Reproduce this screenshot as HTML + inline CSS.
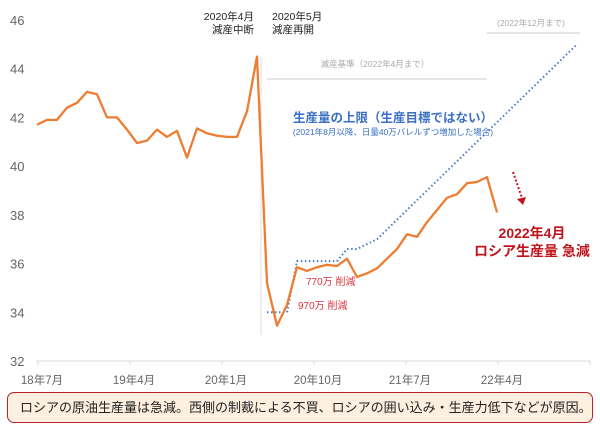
<!DOCTYPE html>
<html><head><meta charset="utf-8"><style>
body{margin:0;background:#fff;width:600px;height:430px;overflow:hidden;font-family:"Liberation Sans","Noto Sans CJK JP",sans-serif}
svg text{font-family:"Liberation Sans","Noto Sans CJK JP",sans-serif}
#note{position:absolute;left:7px;top:392px;width:586px;height:31px;box-sizing:border-box;border:1.5px solid #b8222a;border-radius:7px;background:#fdf0e0;font-size:13px;color:#222;line-height:29px;padding-left:12px;white-space:nowrap;overflow:hidden}
</style></head><body>
<svg id="chart" width="600" height="430" style="position:absolute;left:0;top:0"></svg>
<div id="note">ロシアの原油生産量は急減。西側の制裁による不買、ロシアの囲い込み・生産力低下などが原因。</div>
<script>
const yTicks=[32,34,36,38,40,42,44,46];
const xLabels=["18年7月","19年4月","20年1月","20年10月","21年7月","22年4月"];
const production=[41.7,41.9,41.9,42.4,42.6,43.05,42.95,42.0,42.0,41.5,40.95,41.05,41.5,41.2,41.45,40.35,41.55,41.35,41.25,41.2,41.2,42.25,44.5,35.2,33.45,34.3,35.85,35.7,35.85,35.95,35.9,36.2,35.45,35.6,35.8,36.2,36.6,37.2,37.1,37.7,38.2,38.7,38.85,39.3,39.35,39.55,38.1];
const capStart=23;
const cap=[34.0,34.0,34.0,36.1,36.1,36.1,36.1,36.1,36.6,36.6,36.8,37.0,37.4,37.8,38.2,38.6,39.0,39.4,39.8,40.2,40.6,41.0,41.4,41.8,42.2,42.6,43.0,43.4,43.8,44.2,44.6,45.0];
const NS="http://www.w3.org/2000/svg";
const svg=document.getElementById('chart');
const x0=37,dx=10.0,yTop=20,yBot=361;
function X(i){return x0+i*dx;}
function T(i){return 38+i*92;}
function Y(v){return yBot-(v-32)*(yBot-yTop)/14;}
function mk(t,a,p){const e=document.createElementNS(NS,t);for(const k in a)e.setAttribute(k,a[k]);(p||svg).appendChild(e);return e;}
const ax=mk('line',{x1:36,x2:590,y1:yBot,y2:yBot,stroke:'#d9d9d9','stroke-width':1});


yTicks.forEach(v=>{const t=mk('text',{x:10,y:Y(v)+5,'font-size':13,fill:'#666'});t.textContent=v;

});
xLabels.forEach((s,i)=>{const xx=T(i);mk('line',{x1:xx,x2:xx,y1:yBot,y2:yBot+4,stroke:'#d9d9d9'});
const t=mk('text',{x:xx+4,y:384,'font-size':11.5,fill:'#666','text-anchor':'middle'});t.textContent=s;

});
mk('line',{x1:T(6),x2:T(6),y1:yBot,y2:yBot+4,stroke:'#d9d9d9'});
mk('line',{x1:261,x2:261,y1:57,y2:335,stroke:'#ddd'});
mk('line',{x1:267,x2:487,y1:79,y2:79,stroke:'#ccc'});
mk('line',{x1:487,x2:580,y1:33,y2:33,stroke:'#ccc'});
function txt(s,x,y,sz,fill,anchor,w,name){const t=mk('text',{x:x,y:y,'font-size':sz,fill:fill,'text-anchor':anchor||'start','font-weight':w||'normal'});t.textContent=s;

return t;}
txt('減産基準（2022年4月まで）',375,67,8.5,'#aaa','middle',0,'baseline-label');
txt('(2022年12月まで)',531,26,8.5,'#aaa','middle',0,'extension-label');
txt('2020年4月',254,20,10.5,'#222','end',0,'annot-apr');
txt('減産中断',254,33,10.5,'#222','end',0,'annot-apr-sub');
txt('2020年5月',272,20,10.5,'#222','start',0,'annot-may');
txt('減産再開',272,33,10.5,'#222','start',0,'annot-may-sub');
txt('生産量の上限（生産目標ではない）',393,122,12.5,'#3a6fc4','middle','bold','cap-title');
txt('(2021年8月以降、日量40万バレルずつ増加した場合)',393,135,8.5,'#3a6fc4','middle',0,'cap-subtitle');
txt('770万 削減',306,285,10,'#d9333f','start',0,'cut-770');
txt('970万 削減',298,309,10,'#d9333f','start',0,'cut-970');
txt('2022年4月',532,238,14,'#c0141c','middle','bold','drop-title');
txt('ロシア生産量 急減',532,256,14,'#c0141c','middle','bold','drop-subtitle');
mk('line',{x1:513,y1:172,x2:522,y2:198,stroke:'#c0141c','stroke-width':2,'stroke-dasharray':'2 2'});
mk('polygon',{points:'517,199 526,197 523,205',fill:'#c0141c'});
const cp=mk('path',{d:cap.map((v,i)=>(i?'L':'M')+X(capStart+i).toFixed(1)+','+Y(v).toFixed(1)).join(''),fill:'none',stroke:'#4a7cc4','stroke-width':2,'stroke-dasharray':'1.5 2.5'});


const pl=mk('path',{d:production.map((v,i)=>(i?'L':'M')+X(i).toFixed(1)+','+Y(v).toFixed(1)).join(''),fill:'none',stroke:'#ed7d31','stroke-width':2.3,'stroke-linejoin':'round'});


</script>
</body></html>
